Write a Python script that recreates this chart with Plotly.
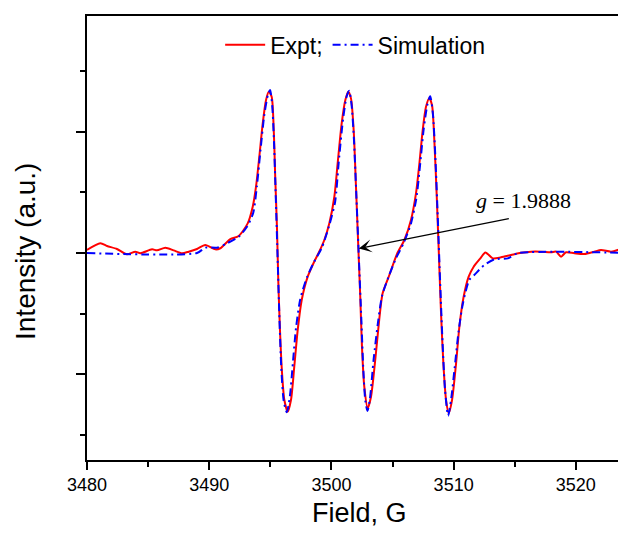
import plotly.graph_objects as go

# ---- data ----
field_expt = [3480.00, 3481.09, 3481.64, 3482.45, 3483.27, 3483.95, 3484.36, 3485.32, 3485.73,
              3486.41, 3487.09, 3487.77, 3488.32, 3489.00, 3489.68, 3490.50, 3490.91, 3491.73,
              3492.41, 3493.15, 3493.56, 3493.83, 3494.10, 3494.38, 3494.65, 3494.87, 3495.11,
              3495.28, 3495.41, 3495.55, 3495.65, 3495.79, 3495.96, 3496.15, 3496.42, 3496.69,
              3496.96, 3497.24, 3497.57, 3498.06, 3498.60, 3499.00, 3499.42, 3499.83, 3500.24,
              3500.51, 3500.84, 3501.14, 3501.38, 3501.60, 3501.82, 3502.01, 3502.20, 3502.36,
              3502.50, 3502.69, 3502.97, 3503.24, 3503.64, 3503.91, 3504.19, 3504.74, 3505.40,
              3505.97, 3506.51, 3506.92, 3507.20, 3507.47, 3507.74, 3508.01, 3508.23, 3508.42,
              3508.62, 3508.79, 3508.97, 3509.16, 3509.38, 3509.60, 3509.87, 3510.20, 3510.47,
              3510.80, 3511.23, 3511.64, 3512.19, 3512.60, 3513.20, 3513.88, 3514.70, 3515.52,
              3516.33, 3517.15, 3517.97, 3518.38, 3518.79, 3519.20, 3519.88, 3520.70, 3521.51,
              3522.06, 3522.88, 3523.42, 3523.83, 3524.19]
intensity_expt = [0.025, 0.080, 0.058, 0.033, -0.011, 0.011, -0.002, 0.030, 0.022,
                  0.044, 0.022, -0.002, 0.011, 0.033, 0.066, 0.030, 0.039, 0.115,
                  0.140, 0.244, 0.381, 0.546, 0.793, 1.067, 1.259, 1.328, 1.286,
                  1.012, 0.601, 0.189, -0.222, -0.634, -0.990, -1.210, -1.306, -1.210,
                  -0.936, -0.634, -0.387, -0.195, -0.070, 0.010, 0.107, 0.244, 0.463,
                  0.738, 1.067, 1.259, 1.328, 1.273, 1.012, 0.546, 0.052, -0.360,
                  -0.771, -1.100, -1.278, -1.183, -0.826, -0.551, -0.332, -0.181, 0.000,
                  0.107, 0.272, 0.491, 0.738, 1.012, 1.204, 1.273, 1.218, 0.930,
                  0.463, -0.002, -0.496, -0.908, -1.210, -1.319, -1.210, -0.908, -0.607,
                  -0.370, -0.195, -0.113, -0.044, 0.005, -0.044, -0.035, -0.016, 0.002,
                  0.011, 0.011, 0.006, 0.011, -0.030, 0.006, -0.002, -0.008, 0.011,
                  0.025, 0.011, 0.025, 0.044, 0.052]

field_sim = [3480.00, 3489.00, 3489.68, 3490.64, 3491.46, 3492.41, 3493.09, 3493.60, 3493.90,
             3494.20, 3494.50, 3494.80, 3494.98, 3495.15, 3495.30, 3495.45, 3495.60, 3495.75,
             3495.90, 3496.10, 3496.35, 3496.60, 3496.85, 3497.10, 3497.45, 3498.00, 3498.60,
             3499.20, 3499.80, 3500.30, 3500.60, 3500.95, 3501.25, 3501.45, 3501.65, 3501.85,
             3502.05, 3502.25, 3502.45, 3502.62, 3502.78, 3502.95, 3503.15, 3503.45, 3503.80,
             3504.15, 3504.70, 3505.30, 3505.90, 3506.50, 3506.95, 3507.25, 3507.55, 3507.85,
             3508.08, 3508.30, 3508.50, 3508.70, 3508.90, 3509.10, 3509.30, 3509.55, 3509.80,
             3510.10, 3510.40, 3510.75, 3511.28, 3511.69, 3512.51, 3513.33, 3514.43, 3515.25,
             3524.20]
intensity_sim = [0.000, 0.000, 0.044, 0.044, 0.080, 0.134, 0.216, 0.330, 0.550,
                 0.850, 1.130, 1.300, 1.342, 1.220, 0.920, 0.450, -0.050, -0.550,
                 -0.950, -1.220, -1.310, -1.180, -0.900, -0.620, -0.380, -0.200, -0.070,
                 0.040, 0.220, 0.420, 0.750, 1.100, 1.290, 1.335, 1.220, 0.920,
                 0.450, -0.050, -0.550, -0.980, -1.220, -1.300, -1.200, -0.880, -0.580,
                 -0.350, -0.190, -0.040, 0.080, 0.240, 0.450, 0.720, 1.020, 1.220,
                 1.290, 1.150, 0.800, 0.300, -0.250, -0.750, -1.130, -1.340, -1.200,
                 -0.930, -0.650, -0.420, -0.222, -0.181, -0.099, -0.052, -0.044, -0.002,
                 0.000]

x_tick_vals = [3480, 3490, 3500, 3510, 3520]
x_tick_text = ["3480", "3490", "3500", "3510", "3520"]
g_label = "<i>g</i> = 1.9888"
g_point = (3502.24, 0.037)
g_tail = (3514.64, 0.286)
g_text_pos = (3515.70, 0.436)

fig = go.Figure()
fig.add_trace(go.Scatter(
    x=field_expt, y=intensity_expt, mode="lines", name="Expt;",
    line=dict(color="#ff0000", width=2, shape="spline", smoothing=0.7)))
fig.add_trace(go.Scatter(
    x=field_sim, y=intensity_sim, mode="lines", name="Simulation",
    line=dict(color="#0000ff", width=2, dash="8px,4px,2px,4px", shape="spline", smoothing=0.7)))

fig.add_annotation(x=g_point[0], y=g_point[1], ax=g_tail[0], ay=g_tail[1],
                   xref="x", yref="y", axref="x", ayref="y", text="",
                   showarrow=True, arrowhead=3, arrowsize=1.8, arrowwidth=1.2, arrowcolor="black")
fig.add_annotation(x=g_text_pos[0], y=g_text_pos[1], xref="x", yref="y", text=g_label,
                   showarrow=False, xanchor="center", yanchor="middle",
                   font=dict(family="Liberation Serif, Times New Roman, serif", size=22, color="black"))
# axis titles
fig.add_annotation(x=-0.1168, y=0.4707, xref="paper", yref="paper", text="Intensity (a.u.)",
                   textangle=-90, showarrow=False, xanchor="center", yanchor="middle",
                   font=dict(size=28, color="black"))
fig.add_annotation(x=0.514, y=-0.1194, xref="paper", yref="paper", text="Field, G",
                   showarrow=False, xanchor="center", yanchor="middle",
                   font=dict(size=27, color="black"))

fig.update_layout(
    width=610, height=521,
    margin=dict(l=79, r=0, t=8, b=69),
    paper_bgcolor="white", plot_bgcolor="white",
    font=dict(family="Arial, Liberation Sans, sans-serif", color="black"),
    showlegend=True,
    legend=dict(orientation="h", x=0.505, xanchor="center", y=0.935, yanchor="middle",
                font=dict(size=23, color="black"), bgcolor="rgba(0,0,0,0)",
                itemwidth=40, tracegroupgap=0),
    xaxis=dict(range=[3480, 3523.45], tickmode="array", tickvals=x_tick_vals, ticktext=x_tick_text,
               ticks="outside", ticklen=8, tickwidth=1.5, tickcolor="black",
               minor=dict(dtick=5, tick0=3480, ticks="outside", ticklen=5, tickwidth=1.5, tickcolor="black"),
               showline=True, linecolor="black", linewidth=1.5, mirror=True,
               showgrid=False, zeroline=False, tickfont=dict(size=18)),
    yaxis=dict(range=[-1.704, 1.951], tickmode="linear", tick0=0, dtick=1,
               ticks="outside", ticklen=9, tickwidth=1.5, tickcolor="black",
               minor=dict(dtick=0.5, tick0=0, ticks="outside", ticklen=5, tickwidth=1.5, tickcolor="black"),
               showticklabels=False,
               showline=True, linecolor="black", linewidth=1.5, mirror=False,
               showgrid=False, zeroline=False),
)

fig.write_html("out.html")
